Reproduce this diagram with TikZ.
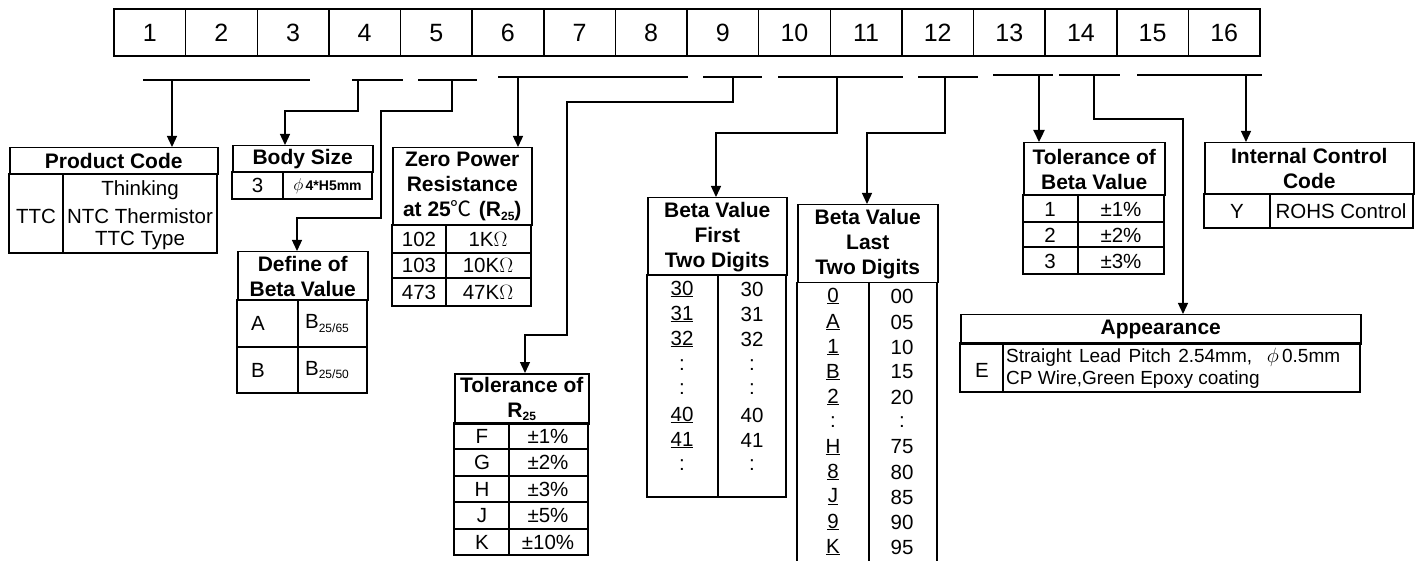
\documentclass[tikz,border=0pt]{standalone}
\usepackage{fontspec}
\setmainfont{Liberation Sans}
\newfontfamily\cjk{Noto Sans CJK SC}
\usetikzlibrary{arrows.meta,calc}
\newcommand\mysub[1]{\raisebox{-3.5pt}{\fontsize{12}{12}\selectfont #1}}
\begin{document}
\begin{tikzpicture}[x=1pt,y=-1pt,
  tline/.style={line width=1.5pt},
  arr/.style={line width=1.3pt,-{Triangle[width=10pt,length=11pt]}},
  thickarr/.style={line width=2.3pt,-{Triangle[width=11pt,length=12pt]}},
  cell/.style={draw,line width=1.5pt,minimum width=71.625pt,minimum height=47pt,inner sep=0pt,text height=18pt,text depth=0pt,font=\fontsize{25}{25}\selectfont},
  hdr/.style={draw,line width=1.5pt,inner sep=0pt,align=center,anchor=north west,font=\fontsize{21}{25}\selectfont\bfseries},
  txt/.style={inner sep=0pt,font=\fontsize{20.5}{25}\selectfont},
  small/.style={inner sep=0pt,font=\fontsize{19}{23}\selectfont},
]
\useasboundingbox (0,0) rectangle (1419,561);
% top bar
\foreach \i in {1,...,16} \node[cell] (c\i) at ({114+71.625*(\i-0.5)},32.5) {\i};
% underline segments
\draw[tline] (143,80) -- (310,80);
\draw[tline] (352,80) -- (403,80);
\draw[tline] (418,80) -- (477,80);
\draw[tline] (498,77) -- (688,77);
\draw[tline] (703,77) -- (762,77);
\draw[tline] (778,77) -- (903,77);
\draw[tline] (918,77) -- (978,77);
\draw[tline] (993,75) -- (1053,75);
\draw[tline] (1059,75) -- (1120,75);
\draw[tline] (1137,75) -- (1262,75);
\coordinate (s1) at (172,80);
\coordinate (s2) at (358,80);
\coordinate (s3) at (452,80);
\coordinate (s4) at (518,77);
\coordinate (s5) at (733,77);
\coordinate (s6) at (837,77);
\coordinate (s7) at (945,77);
\coordinate (s8) at (1039,75);
\coordinate (s9) at (1094,75);
\coordinate (s10) at (1246,75);
\coordinate (k2) at (285,111);
\coordinate (k3a) at (381,111);
\coordinate (k3b) at (297,218);
\coordinate (k5a) at (567,102);
\coordinate (k5b) at (525,335);
\coordinate (k6) at (716,133);
\coordinate (k7) at (867,133);
\coordinate (k9) at (1183,119);

% Product Code
\node[hdr,minimum width=208pt,minimum height=27pt] (pc) at (9,147) {Product Code};
\draw[tline] (9,174) rectangle (217,253);
\draw[tline] (63,174) -- (63,253);
\node[txt] at (36,216) {TTC};
\node[txt] at (140,190) {Thinking};
\node[txt] at (140,216) {NTC Thermistor};
\node[txt] at (140,240) {TTC Type};

% Body Size
\node[hdr,minimum width=140pt,minimum height=27pt] (bs) at (232,145) {Body Size};
\draw[tline] (232,172) rectangle (372,199);
\draw[tline] (283,172) -- (283,199);
\node[txt] at (257.5,185.5) {3};
\node[inner sep=0pt,font=\fontsize{14}{14}\selectfont\bfseries] at (327.5,186) {\scalebox{1.2}{$\phi$}\,4*H5mm};

% Define of Beta Value
\node[hdr,minimum width=130pt,minimum height=49pt] (db) at (237,251) {Define of\\Beta Value};
\draw[tline] (237,300) rectangle (367,393);
\draw[tline] (237,347) -- (367,347);
\draw[tline] (298,300) -- (298,393);
\node[txt] at (258,323.5) {A};
\node[txt] at (327,323.5) {B\mysub{25/65}};
\node[txt] at (258,370) {B};
\node[txt] at (327,370) {B\mysub{25/50}};

% Zero Power Resistance
\node[hdr,minimum width=139pt,minimum height=78pt] (zp) at (392,147) {Zero Power\\Resistance\\at 25{\cjk\mdseries ℃}\,\,(R\mysub{25})};
\draw[tline] (392,225) rectangle (531,306);
\draw[tline] (392,253) -- (531,253);
\draw[tline] (392,278) -- (531,278);
\draw[tline] (446,225) -- (446,306);
\node[txt] at (419,239) {102};
\node[txt] at (488,239) {1K$\Omega$};
\node[txt] at (419,265.5) {103};
\node[txt] at (488,265.5) {10K$\Omega$};
\node[txt] at (419,292) {473};
\node[txt] at (488,292) {47K$\Omega$};

% Tolerance of R25
\node[hdr,minimum width=134pt,minimum height=50pt] (tr) at (454,373) {Tolerance of\\R\mysub{25}};
\draw[tline] (454,423) rectangle (588,555);
\foreach \y in {449,476,502,529} \draw[tline] (454,\y) -- (588,\y);
\draw[tline] (509,423) -- (509,555);
\foreach \a/\b/\y in {F/1/436,G/2/462.5,H/3/489,J/5/515.5,K/10/542}{
  \node[txt] at (482,\y) {\a};
  \node[txt] at (548,\y) {±\b\%};
}

% Beta Value First Two Digits
\node[hdr,minimum width=139pt,minimum height=78pt] (bf) at (647,197) {Beta Value\\First\\Two Digits};
\draw[tline] (647,275) rectangle (786,497);
\draw[tline] (718,275) -- (718,497);
\foreach \a/\b/\y in {\underline{30}/30/289,\underline{31}/31/314,\underline{32}/32/339,:/:/365,:/:/389,\underline{40}/40/415,\underline{41}/41/440,:/:/465}{
  \node[txt] at (682,\y) {\a};
  \node[txt] at (752,\y) {\b};
}

% Beta Value Last Two Digits
\node[hdr,minimum width=140pt,minimum height=78pt] (bl) at (797,204) {Beta Value\\Last\\Two Digits};
\draw[tline] (797,282) -- (797,562);
\draw[tline] (937,282) -- (937,562);
\draw[tline] (869,282) -- (869,562);
\foreach \a/\b/\y in {\underline{0}/00/296,\underline{A}/05/322,\underline{1}/10/347,\underline{B}/15/372,\underline{2}/20/397,:/:/422,\underline{H}/75/447,\underline{8}/80/472,\underline{J}/85/497,\underline{9}/90/522,\underline{K}/95/547}{
  \node[txt] at (833,\y) {\a};
  \node[txt] at (902,\y) {\b};
}

% Tolerance of Beta Value
\node[hdr,minimum width=141pt,minimum height=53pt] (tb) at (1023,142) {Tolerance of\\Beta Value};
\draw[tline] (1023,195) rectangle (1164,274);
\draw[tline] (1023,222) -- (1164,222);
\draw[tline] (1023,247) -- (1164,247);
\draw[tline] (1078,195) -- (1078,274);
\foreach \a/\y in {1/209,2/235,3/261}{
  \node[txt] at (1050,\y) {\a};
  \node[txt] at (1121,\y) {±\a\%};
}

% Internal Control Code
\node[hdr,minimum width=209pt,minimum height=52pt] (ic) at (1204,142) {Internal Control\\Code};
\draw[tline] (1204,194) rectangle (1413,228);
\draw[tline] (1270,194) -- (1270,228);
\node[txt] at (1237,211) {Y};
\node[txt] at (1341,211) {ROHS Control};

% Appearance
\node[hdr,minimum width=400pt,minimum height=29pt] (ap) at (960,314) {Appearance};
\draw[tline] (960,343) rectangle (1360,392);
\draw[tline] (1003,343) -- (1003,392);
\node[txt] at (982,370) {E};
\node[small,anchor=west] at (1006,357) {\makebox[334pt][s]{Straight Lead Pitch 2.54mm,\ \ \scalebox{1.2}{$\phi$}\,0.5mm}};
\node[small,anchor=west] at (1006,380) {CP Wire,Green Epoxy coating};

% connectors
\draw[arr] (s1) -- (s1 |- pc.north);
\draw[arr] (s2) |- (k2) -- (k2 |- bs.north);
\draw[arr] (s3) |- (k3a) |- (k3b) -- (k3b |- db.north);
\draw[arr] (s4) -- (s4 |- zp.north);
\draw[arr] (s5) |- (k5a) |- (k5b) -- (k5b |- tr.north);
\draw[arr] (s6) |- (k6) -- (k6 |- bf.north);
\draw[arr] (s7) |- (k7) -- (k7 |- bl.north);
\draw[thickarr] (s8) -- (s8 |- tb.north);
\draw[arr] (s9) |- (k9) -- (k9 |- ap.north);
\draw[arr] (s10) -- (s10 |- ic.north);
\end{tikzpicture}
\end{document}
